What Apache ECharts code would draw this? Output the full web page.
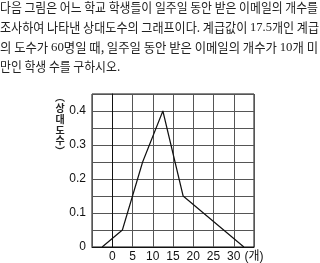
<!DOCTYPE html>
<html><head><meta charset="utf-8">
<script src="https://cdn.jsdelivr.net/npm/echarts@6/dist/echarts.min.js"></script>
<style>html,body{margin:0;padding:0;background:#fff}#c{width:320px;height:263px}</style>
</head><body><div id="c"></div>
<script>
// Data
const classMarks = [-2.5, 2.5, 7.5, 12.5, 17.5, 22.5, 27.5, 32.5];
const relFreq = [0, 0.05, 0.25, 0.4, 0.15, 0.1, 0.05, 0];
const xTickLabels = ['', '0', '5', '10', '15', '20', '25', '30', '(개)'];
const yTickLabels = ['0', '0.1', '0.2', '0.3', '0.4'];
const textLines = [
  [['다음 그림은 어느 학교 학생들이 일주일 동안 받은 이메일의 개수를', 'k']],
  [['조사하여 나타낸 상대도수의 그래프이다. 계급값이 ', 'k'], ['17.5', 'n'], ['개인 계급', 'k']],
  [['의 도수가 ', 'k'], ['60', 'n'], ['명일 때, 일주일 동안 받은 이메일의 개수가 ', 'k'], ['10', 'n'], ['개 미', 'k']],
  [['만인 학생 수를 구하시오.', 'k']]
];
const yName = ['︵', '상', '대', '도', '수', '︶'];

const KFONT = '"Noto Sans CJK KR", sans-serif';
const NFONT = '"Liberation Serif", "DejaVu Serif", serif';
const FS = 13;
const cv = document.createElement('canvas').getContext('2d');
function measure(segs) {
  let w = 0;
  segs.forEach(([t, s]) => {
    cv.font = (s === 'n' ? FS + 0.5 : FS) + 'px ' + (s === 'n' ? NFONT : KFONT);
    w += cv.measureText(t).width;
  });
  return w;
}
const targets = [318, 319, 318, null];
const scales = textLines.map((l, i) => targets[i] ? targets[i] / measure(l) : null);
scales[3] = scales[0];
const lineY = [10, 29.5, 49, 68.5];
const graphics = textLines.map((segs, i) => ({
  type: 'text', left: 0, top: lineY[i] - 9, scaleX: scales[i], scaleY: 1, originX: 0,
  style: {
    text: segs.map(([t, s]) => '{' + s + '|' + t + '}').join(''),
    rich: {
      k: { fontFamily: KFONT, fontSize: FS, fill: '#222' },
      n: { fontFamily: NFONT, fontSize: FS + 0.5, fill: '#222' }
    }
  }
}));
graphics.push({
  type: 'text', x: 60, y: 92,
  style: {
    text: yName.join('\n'), fontFamily: KFONT, fontSize: 10, fontWeight: 'bold',
    lineHeight: 10.8, align: 'center', verticalAlign: 'top', fill: '#222'
  }
});

const chart = echarts.init(document.getElementById('c'), null, { renderer: 'canvas' });
chart.setOption({
  animation: false,
  graphic: graphics,
  grid: { left: 92, right: 66, top: 94, bottom: 16, show: true, borderColor: '#111', borderWidth: 1, containLabel: false },
  xAxis: {
    type: 'value', min: -5, max: 35, interval: 5,
    axisLine: { show: true, lineStyle: { color: '#111', width: 1 } },
    axisTick: { show: false },
    splitLine: { show: true, lineStyle: { color: '#555', width: 1 } },
    axisLabel: {
      margin: 4, color: '#111', fontSize: 12, fontFamily: '"Liberation Sans", "Noto Sans CJK KR", sans-serif',
      formatter: v => xTickLabels[Math.round((v + 5) / 5)] ?? ''
    }
  },
  yAxis: {
    type: 'value', min: 0, max: 0.45, interval: 0.05,
    axisLine: { show: true, lineStyle: { color: '#111', width: 1 } },
    axisTick: { show: false },
    splitLine: { show: true, lineStyle: { color: '#555', width: 1 } },
    axisLabel: {
      margin: 6, color: '#111', fontSize: 12, fontFamily: '"Liberation Sans", sans-serif',
      formatter: v => {
        const k = Math.round(v * 100);
        return k % 10 === 0 ? (yTickLabels[k / 10] ?? '') : '';
      }
    }
  },
  series: [{
    type: 'line', data: classMarks.map((x, i) => [x, relFreq[i]]),
    showSymbol: false, symbol: 'none',
    lineStyle: { color: '#111', width: 1.2 }
  }]
});
</script></body></html>
